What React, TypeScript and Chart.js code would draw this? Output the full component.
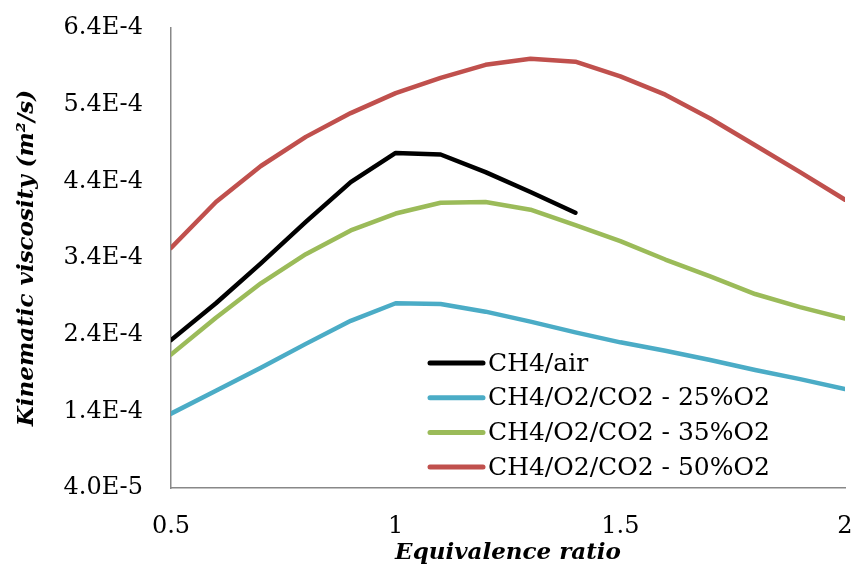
import React, { useEffect, useRef } from "react";
import { Chart, registerables } from "chart.js";

Chart.register(...registerables);

// Equivalence ratio (x)
const phi = [0.5, 0.6, 0.7, 0.8, 0.9, 1.0, 1.1, 1.2, 1.3, 1.4, 1.5, 1.6, 1.7, 1.8, 1.9, 2.0];

// Kinematic viscosity (m2/s)
const ch4Air = [2.33e-4, 2.81e-4, 3.33e-4, 3.87e-4, 4.39e-4, 4.77e-4, 4.75e-4, 4.52e-4, 4.26e-4, 3.99e-4];
const o2co2_25 = [1.37e-4, 1.67e-4, 1.97e-4, 2.28e-4, 2.58e-4, 2.81e-4, 2.8e-4, 2.7e-4, 2.57e-4, 2.43e-4, 2.3e-4, 2.19e-4, 2.07e-4, 1.94e-4, 1.82e-4, 1.69e-4];
const o2co2_35 = [2.14e-4, 2.62e-4, 3.07e-4, 3.45e-4, 3.76e-4, 3.98e-4, 4.12e-4, 4.13e-4, 4.03e-4, 3.83e-4, 3.62e-4, 3.38e-4, 3.16e-4, 2.93e-4, 2.76e-4, 2.61e-4];
const o2co2_50 = [3.53e-4, 4.13e-4, 4.6e-4, 4.98e-4, 5.29e-4, 5.55e-4, 5.75e-4, 5.92e-4, 6.0e-4, 5.96e-4, 5.77e-4, 5.53e-4, 5.22e-4, 4.87e-4, 4.52e-4, 4.16e-4];

const seriesLabels = [
  "CH4/air",
  "CH4/O2/CO2 - 25%O2",
  "CH4/O2/CO2 - 35%O2",
  "CH4/O2/CO2 - 50%O2",
];
const seriesColors = ["#000000", "#4BACC6", "#9BBB59", "#C0504D"];

const yTickValues = [4e-5, 1.4e-4, 2.4e-4, 3.4e-4, 4.4e-4, 5.4e-4, 6.4e-4];
const xTickValues = [0.5, 1, 1.5, 2];

const FONT = '"DejaVu Serif", serif';

const toPoints = (ys: number[]) => ys.map((y, i) => ({ x: phi[i], y }));

const insideLegend = {
  id: "insideLegend",
  afterDraw(chart: any, _args: any, opts: any) {
    const { ctx } = chart;
    ctx.save();
    ctx.font = `${opts.fontSize}px ${FONT}`;
    ctx.textBaseline = "middle";
    ctx.textAlign = "left";
    chart.data.datasets.forEach((ds: any, i: number) => {
      const y = opts.y + i * opts.rowGap;
      ctx.strokeStyle = ds.borderColor;
      ctx.lineWidth = 5;
      ctx.lineCap = "round";
      ctx.beginPath();
      ctx.moveTo(opts.x, y);
      ctx.lineTo(opts.x + opts.lineLen, y);
      ctx.stroke();
      ctx.fillStyle = "#000";
      ctx.fillText(ds.label, opts.x + opts.lineLen + opts.gap, y + 1);
    });
    ctx.restore();
  },
};

const zeroPad = (scale: any) => {
  scale.paddingTop = 0;
  scale.paddingBottom = 0;
  scale.paddingLeft = 0;
  scale.paddingRight = 0;
};

export default function App() {
  const canvasRef = useRef<HTMLCanvasElement | null>(null);

  useEffect(() => {
    if (!canvasRef.current) return;
    const seriesData = [ch4Air, o2co2_25, o2co2_35, o2co2_50];
    const chart = new Chart(canvasRef.current, {
      type: "line",
      data: {
        datasets: seriesData.map((d, i) => ({
          label: seriesLabels[i],
          data: toPoints(d),
          borderColor: seriesColors[i],
          backgroundColor: seriesColors[i],
          borderWidth: 4.5,
          pointRadius: 0,
          tension: 0,
          fill: false,
          borderCapStyle: "round" as const,
          borderJoinStyle: "round" as const,
        })),
      },
      options: {
        animation: false,
        responsive: true,
        maintainAspectRatio: false,
        layout: { padding: { top: 28, right: 8, left: 0, bottom: 0 } },
        plugins: {
          legend: { display: false },
          tooltip: { enabled: false },
          insideLegend: { x: 430, y: 363, rowGap: 34.7, lineLen: 53, gap: 5, fontSize: 25 },
        } as any,
        scales: {
          x: {
            type: "linear",
            min: 0.5,
            max: 2,
            grid: { display: false, drawTicks: false },
            border: { display: true, color: "#888888", width: 1.5 },
            afterBuildTicks: (scale: any) => {
              scale.ticks = xTickValues.map((v) => ({ value: v }));
            },
            afterFit: (scale: any) => {
              scale.height = 81;
              zeroPad(scale);
            },
            ticks: {
              color: "#000",
              padding: 24,
              maxRotation: 0,
              font: { family: FONT, size: 24 },
              callback: (v: any) => String(v),
            },
            title: {
              display: true,
              text: "Equivalence ratio",
              color: "#000",
              font: { family: FONT, size: 23, weight: "bold", style: "italic" },
              padding: { top: 0, bottom: 2 },
            },
          },
          y: {
            type: "linear",
            min: 4e-5,
            max: 6.4e-4,
            grid: { display: false, drawTicks: false },
            border: { display: true, color: "#888888", width: 1.5 },
            afterBuildTicks: (scale: any) => {
              scale.ticks = yTickValues.map((v) => ({ value: v }));
            },
            afterFit: (scale: any) => {
              scale.width = 171;
              zeroPad(scale);
            },
            ticks: {
              color: "#000",
              padding: 28,
              font: { family: FONT, size: 24 },
              callback: (v: any) => Number(v).toExponential(1).toUpperCase(),
            },
            title: {
              display: true,
              text: "Kinematic viscosity (m²/s)",
              color: "#000",
              font: { family: FONT, size: 23, weight: "bold", style: "italic" },
              padding: { top: 13, bottom: 0 },
            },
          },
        },
      },
      plugins: [insideLegend],
    });
    return () => chart.destroy();
  }, []);

  return (
    <div
      style={{
        position: "absolute",
        left: 0,
        top: 0,
        width: 853,
        height: 569,
        background: "#fff",
      }}
    >
      <canvas ref={canvasRef} />
    </div>
  );
}
